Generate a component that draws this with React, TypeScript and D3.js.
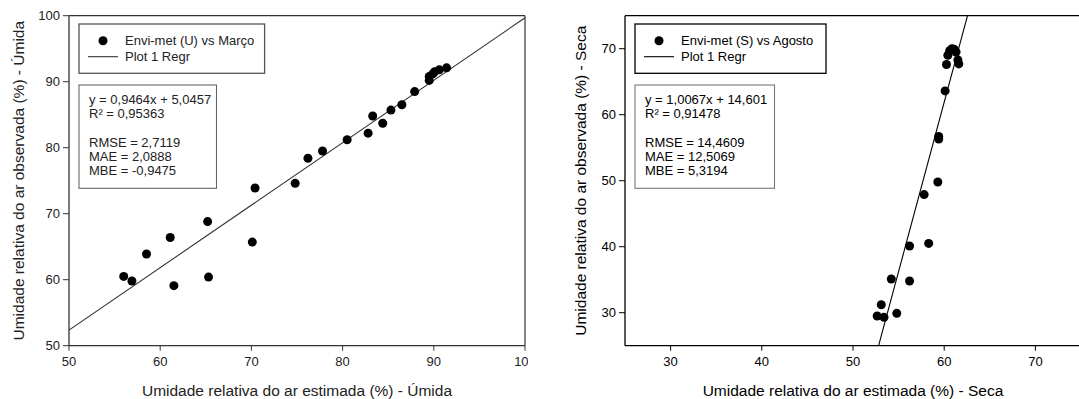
import React from "react";
import * as d3 from "d3";

// ---------- Data ----------
const umidaEst = [56.0, 56.9, 58.5, 61.1, 61.5, 65.2, 65.3, 70.1, 70.4, 74.8, 76.2, 77.8, 80.5, 82.8, 83.3, 84.4, 85.3, 86.5, 87.9, 89.5, 89.5, 89.9, 90.1, 90.6, 91.4];
const umidaObs = [60.5, 59.8, 63.9, 66.4, 59.1, 68.8, 60.4, 65.7, 73.9, 74.6, 78.4, 79.5, 81.2, 82.2, 84.8, 83.7, 85.7, 86.5, 88.5, 90.2, 90.8, 91.2, 91.5, 91.8, 92.1];
const umidaTicksX = [50, 60, 70, 80, 90, 100];
const umidaTicksY = [50, 60, 70, 80, 90, 100];
const umidaRegr = { slope: 0.9464, intercept: 5.0457 };
const umidaStats = ["y = 0,9464x + 5,0457", "R² = 0,95363", "", "RMSE = 2,7119", "MAE = 2,0888", "MBE = -0,9475"];

const secaEst = [52.65, 53.1, 53.4, 54.2, 54.8, 56.2, 56.2, 58.3, 57.8, 59.3, 59.4, 59.4, 60.1, 60.25, 60.4, 60.6, 60.85, 61.1, 61.3, 61.5, 61.6];
const secaObs = [29.5, 31.2, 29.3, 35.1, 29.9, 40.1, 34.8, 40.5, 47.9, 49.8, 56.7, 56.3, 63.6, 67.6, 69.0, 69.7, 70.0, 69.9, 69.5, 68.3, 67.7];
const secaTicksX = [30, 40, 50, 60, 70];
const secaTicksY = [30, 40, 50, 60, 70];
const secaRegr = { slope: 5.13, intercept: -245.9 };
const secaStats = ["y = 1,0067x + 14,601", "R² = 0,91478", "", "RMSE = 14,4609", "MAE = 12,5069", "MBE = 5,3194"];

const FONT = "'Liberation Sans', Arial, Helvetica, sans-serif";

type PanelProps = {
  id: string;
  left: number;
  width: number;
  xDomain: [number, number];
  yDomain: [number, number];
  xTicks: number[];
  yTicks: number[];
  xs: number[];
  ys: number[];
  regr: { slope: number; intercept: number };
  legendLabel: string;
  stats: string[];
  xTitle: string;
  yTitle: string;
  legendW: number;
  statsW: number;
  rightBorder: boolean;
  axisColor: string;
  boxColor: string;
  statsBoxColor: string;
  textColor: string;
  yTitleX: number;
  clipRight: number;
};

function Panel(p: PanelProps) {
  const top = 15.7;
  const bottom = 345.7;
  const x = d3.scaleLinear().domain(p.xDomain).range([p.left, p.left + p.width]);
  const y = d3.scaleLinear().domain(p.yDomain).range([bottom, top]);
  const line = d3
    .line<number>()
    .x((v) => x(v))
    .y((v) => y(p.regr.slope * v + p.regr.intercept));
  const lineXs = [p.xDomain[0], p.xDomain[1]];
  const clipId = `clip-${p.id}`;
  const panelClip = `pclip-${p.id}`;
  const lx = p.left + 10;
  const statsLineH = 14.3;
  return (
    <g fontFamily={FONT}>
      <defs>
        <clipPath id={clipId}>
          <rect x={p.left} y={top} width={p.width} height={bottom - top} />
        </clipPath>
        <clipPath id={panelClip}>
          <rect x={0} y={0} width={p.clipRight} height={399} />
        </clipPath>
      </defs>
      <g clipPath={`url(#${panelClip})`}>
        {/* frame */}
        <line x1={p.left} x2={p.left + p.width} y1={top} y2={top} stroke={p.axisColor} strokeWidth={1.2} />
        {p.rightBorder && (
          <line x1={p.left + p.width} x2={p.left + p.width} y1={top} y2={bottom} stroke={p.axisColor} strokeWidth={1.2} />
        )}
        <line x1={p.left} x2={p.left} y1={top} y2={bottom} stroke={p.axisColor} strokeWidth={1.3} />
        <line x1={p.left} x2={p.left + p.width} y1={bottom} y2={bottom} stroke={p.axisColor} strokeWidth={1.3} />
        {/* x ticks */}
        {p.xTicks.map((t) => (
          <g key={`xt${t}`}>
            <line x1={x(t)} x2={x(t)} y1={bottom} y2={bottom + 5} stroke={p.axisColor} strokeWidth={1} />
            <text x={x(t)} y={bottom + 20} textAnchor="middle" fontSize={13} fill={p.textColor}>
              {t}
            </text>
          </g>
        ))}
        {/* y ticks */}
        {p.yTicks.map((t) => (
          <g key={`yt${t}`}>
            <line x1={p.left - 6} x2={p.left} y1={y(t)} y2={y(t)} stroke={p.axisColor} strokeWidth={1} />
            <text x={p.left - 9} y={y(t) + 4.5} textAnchor="end" fontSize={13} fill={p.textColor}>
              {t}
            </text>
          </g>
        ))}
        {/* regression line */}
        <path d={line(lineXs) || ""} stroke={p.axisColor} strokeWidth={1.1} fill="none" clipPath={`url(#${clipId})`} />
        {/* points */}
        <g clipPath={`url(#${clipId})`}>
          {p.xs.map((v, i) => (
            <circle key={i} cx={x(v)} cy={y(p.ys[i])} r={4.5} fill="#000" />
          ))}
        </g>
        {/* legend */}
        <rect x={lx} y={top + 8.3} width={p.legendW} height={49.3} fill="#fff" stroke={p.boxColor} strokeWidth={1.3} />
        <circle cx={lx + 24} cy={top + 25} r={4.5} fill="#000" />
        <text x={lx + 46} y={top + 29.5} fontSize={13} fill={p.textColor}>
          {p.legendLabel}
        </text>
        <line x1={lx + 9} x2={lx + 39} y1={top + 41} y2={top + 41} stroke={p.axisColor} strokeWidth={1.1} />
        <text x={lx + 46} y={top + 45.5} fontSize={13} fill={p.textColor}>
          Plot 1 Regr
        </text>
        {/* stats box */}
        <rect x={lx} y={top + 69.3} width={p.statsW} height={103.3} fill="#fff" stroke={p.statsBoxColor} strokeWidth={1.1} />
        {p.stats.map((s, i) => (
          <text key={i} x={lx + 10} y={top + 88 + i * statsLineH} fontSize={13} fill={p.textColor}>
            {s}
          </text>
        ))}
        {/* axis titles */}
        <text x={p.left + p.width / 2} y={396} textAnchor="middle" fontSize={15.5} fill={p.textColor}>
          {p.xTitle}
        </text>
        <text
          transform={`translate(${p.yTitleX},${(top + bottom) / 2}) rotate(-90)`}
          textAnchor="middle"
          fontSize={15.5}
          fill={p.textColor}
        >
          {p.yTitle}
        </text>
      </g>
    </g>
  );
}

export default function App() {
  return (
    <svg
      width={1079}
      height={399}
      style={{ position: "absolute", left: 0, top: 0, background: "#fff" }}
    >
      <rect x={0} y={0} width={1079} height={399} fill="#fff" />
      <Panel
        id="umida"
        left={69}
        width={456}
        xDomain={[50, 100]}
        yDomain={[50, 100]}
        xTicks={umidaTicksX}
        yTicks={umidaTicksY}
        xs={umidaEst}
        ys={umidaObs}
        regr={umidaRegr}
        legendLabel="Envi-met (U) vs Março"
        stats={umidaStats}
        xTitle="Umidade relativa do ar estimada (%) - Úmida"
        yTitle="Umidade relativa do ar observada (%) - Úmida"
        legendW={185.6}
        statsW={137.5}
        rightBorder={true}
        axisColor="#333"
        boxColor="#555"
        statsBoxColor="#666"
        textColor="#222"
        yTitleX={24}
        clipRight={528}
      />
      <Panel
        id="seca"
        left={625}
        width={456}
        xDomain={[25, 75]}
        yDomain={[25, 75]}
        xTicks={secaTicksX}
        yTicks={secaTicksY}
        xs={secaEst}
        ys={secaObs}
        regr={secaRegr}
        legendLabel="Envi-met (S) vs Agosto"
        stats={secaStats}
        xTitle="Umidade relativa do ar estimada (%) - Seca"
        yTitle="Umidade relativa do ar observada (%) - Seca"
        legendW={191}
        statsW={139.5}
        rightBorder={false}
        axisColor="#000"
        boxColor="#000"
        statsBoxColor="#777"
        textColor="#000"
        yTitleX={586}
        clipRight={1079}
      />
    </svg>
  );
}
